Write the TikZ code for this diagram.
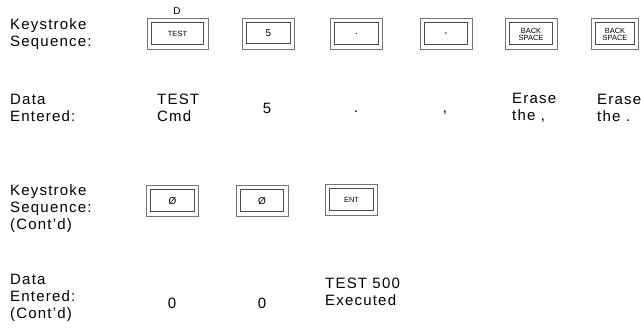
\documentclass[tikz,border=0pt]{standalone}
\usepackage{fontspec}
\setmainfont[LetterSpace=8]{Liberation Sans}
\newfontfamily\keyfont{Liberation Sans}

\tikzset{
	keybox/.style={draw=black!55, line width=0.7pt, rectangle,
		minimum width=52pt, minimum height=31pt, inner sep=0pt,
		font=\keyfont\fontsize{10}{10}\selectfont},
	smallkey/.style={keybox, font=\keyfont\fontsize{7.5}{7}\selectfont, align=center},
	keyrim/.style={draw=black!70, line width=0.8pt},
	rowlabel/.style={anchor=west, inner sep=0pt, align=left,
		font=\fontsize{15}{17}\selectfont},
	entry/.style={inner sep=0pt, align=left, font=\fontsize{15}{17}\selectfont}
}

\begin{document}
\begin{tikzpicture}[x=1pt, y=-1pt]
		\useasboundingbox (0,0) rectangle (641,331);
		
		% Draw row labels
		\node[rowlabel] (seqa) at (10,34) {Keystroke\\Sequence:};
		\node[rowlabel] (data) at (10,108) {Data\\Entered:};
		\node[rowlabel] (seqb) at (10,209) {Keystroke\\Sequence:\\(Cont'd)};
		\node[rowlabel] (datb) at (10,298) {Data\\Entered:\\(Cont'd)};
		
		% Draw first keystroke sequence
		\node[smallkey, minimum width=61pt] (ktest) at (177.5,34) {TEST};
		\node[inner sep=0pt, font=\keyfont\fontsize{10}{10}\selectfont] (kshift) at (177,11) {D};
		\node[keybox] (kfive) at (268.5,33.5) {5};
		\node[keybox] (kdot) at (356.5,34) {.};
		\node[keybox] (kcomma) at (446,34) {,};
		\node[smallkey] (kbsa) at (531,34) {BACK\\SPACE};
		\node[smallkey, minimum width=47pt] (kbsb) at (615,34) {BACK\\SPACE};
		
		% Draw first data entered
		\node[entry, anchor=west] (dtest) at (157,108) {TEST\\Cmd};
		\node[entry, anchor=base] (dfive) at (267,113.5) {5};
		\node[entry, anchor=base] (ddot) at (356,113) {.};
		\node[entry, anchor=base] (dcomma) at (445,113) {,};
		\node[entry, anchor=west] (dbsa) at (512,108) {Erase\\the ,};
		\node[entry, anchor=west] (dbsb) at (597,108) {Erase\\the .};
		
		% Draw continued keystroke sequence
		\node[keybox] (kzeroa) at (172.5,201) {Ø};
		\node[keybox] (kzerob) at (262,201) {Ø};
		\node[smallkey] (kent) at (351.5,200) {ENT};
		
		% Draw inner rim of every key
		\foreach \k in {ktest,kfive,kdot,kcomma,kbsa,kbsb,kzeroa,kzerob,kent}
			\draw[keyrim] ([xshift=4.5pt,yshift=-4.5pt]\k.north west) rectangle ([xshift=-4.5pt,yshift=5.5pt]\k.south east);
		
		% Draw continued data entered
		\node[entry] (dzeroa) at (172,303) {0};
		\node[entry] (dzerob) at (262,303) {0};
		\node[entry, anchor=west] (dent) at (325,292) {TEST 500\\Executed};
\end{tikzpicture}
\end{document}
